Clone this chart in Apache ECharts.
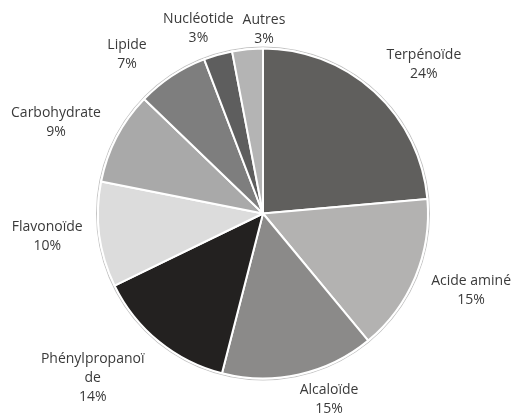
<!DOCTYPE html>
<html>
<head>
<meta charset="utf-8">
<script src="https://cdn.jsdelivr.net/npm/echarts@6/dist/echarts.min.js"></script>
<style>
html,body{margin:0;padding:0;background:#fff;}
#chart{width:512px;height:417px;}
</style>
</head>
<body>
<div id="chart"></div>
<script>
// Data
var categories = ['Terpénoïde', 'Acide aminé', 'Alcaloïde', 'Phénylpropanoïde', 'Flavonoïde', 'Carbohydrate', 'Lipide', 'Nucléotide', 'Autres'];
var values = [23.6, 15.4, 15.0, 13.8, 10.3, 9.1, 7.0, 2.8, 3.0];
var colors = ['#605f5d', '#b3b2b1', '#8b8a89', '#232120', '#dcdcdc', '#a9a9a9', '#7e7e7e', '#5e5e5e', '#b4b4b4'];

// Label layout (polar, relative to the pie): distance from centre, angular shift in degrees
var labelDist = [219, 222, 197, 237, 217, 226, 209, 196, 184];
var labelTurn = [4.8, -2.3, -7, 6.7, 1.2, -3.9, -7.1, -3.4, 5.7];
var maxLabelChars = 14; // labels longer than this wrap onto a second line

var CX = 263, CY = 213.5, R = 165;

var total = values.reduce(function (a, b) { return a + b; }, 0);
var midAngles = [];
(function () {
  var acc = 0;
  for (var i = 0; i < values.length; i++) {
    midAngles.push((acc + values[i] / 2) / total * 360);
    acc += values[i];
  }
})();

function wrapName(s) {
  var out = [];
  while (s.length > maxLabelChars) { out.push(s.slice(0, maxLabelChars)); s = s.slice(maxLabelChars); }
  out.push(s);
  return out.join('\n');
}

var chart = echarts.init(document.getElementById('chart'), null, { renderer: 'canvas' });
chart.setOption({
  backgroundColor: '#ffffff',
  animation: false,
  series: [
    {
      type: 'pie',
      silent: true,
      center: [CX, CY],
      radius: [R + 1, R + 2],
      startAngle: 90,
      label: { show: false },
      labelLine: { show: false },
      itemStyle: { color: '#c4c4c4' },
      data: [{ value: 1, name: 'outline' }]
    },
    {
      type: 'pie',
      center: [CX, CY],
      radius: [0, R],
      startAngle: 90,
      clockwise: true,
      avoidLabelOverlap: false,
      percentPrecision: 0,
      itemStyle: { borderColor: '#ffffff', borderWidth: 2 },
      label: {
        show: true,
        position: 'outside',
        formatter: function (p) { return wrapName(p.name) + '\n' + p.percent + '%'; },
        color: '#3a3a3a',
        fontFamily: 'Open Sans',
        fontSize: 14,
        lineHeight: 19
      },
      labelLine: { show: false },
      labelLayout: function (p) {
        if (p.seriesIndex !== 1) return {};
        var i = p.dataIndex;
        var a = (midAngles[i] + labelTurn[i]) * Math.PI / 180;
        return {
          x: CX + labelDist[i] * Math.sin(a),
          y: CY - labelDist[i] * Math.cos(a),
          align: 'center',
          verticalAlign: 'middle'
        };
      },
      data: categories.map(function (c, i) {
        return { name: c, value: values[i], itemStyle: { color: colors[i] } };
      })
    }
  ]
});
</script>
</body>
</html>
